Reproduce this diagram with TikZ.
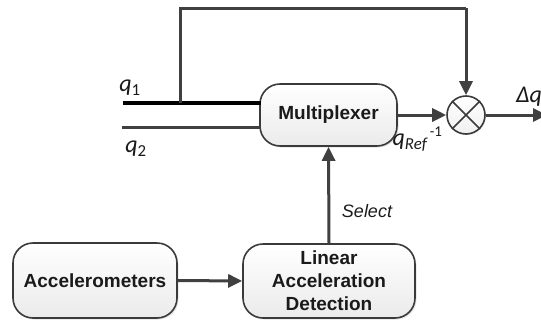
\documentclass[tikz,border=0pt]{standalone}
\usepackage{fontspec}
\setmainfont{Liberation Sans}
\newfontfamily\calib{Carlito}
\usetikzlibrary{arrows.meta,shadows}

\definecolor{wire}{HTML}{404040}
\definecolor{rim}{HTML}{3A3A3A}
\definecolor{ink}{HTML}{1A1A1A}

\begin{document}
\begin{tikzpicture}[x=1pt,y=-1pt,
  block/.style={draw=rim, line width=1.6pt, rounded corners=20pt,
    top color=white, bottom color=gray!16,
    drop shadow={opacity=0.22, shadow xshift=1.5pt, shadow yshift=-1.5pt},
    text=ink, font=\fontsize{19}{23}\selectfont\bfseries, align=center, inner sep=0pt},
  wire/.style={draw=wire, line width=3pt},
  arr/.style={wire, -{Triangle[length=14pt,width=13pt]}},
  mathlbl/.style={text=ink, font=\fontsize{24}{26}\selectfont\calib\itshape, inner sep=0pt},
  note/.style={text=ink, font=\fontsize{18}{22}\selectfont\itshape, inner sep=0pt}]

\clip (0,0) rectangle (541,322);

% blocks
\node[block, minimum width=137pt, minimum height=62pt] (mux) at (328.5,115) {Multiplexer};
\node[block, minimum width=164pt, minimum height=75pt] (acc) at (95,280.5) {Accelerometers};
\node[block, minimum width=172pt, minimum height=74pt] (lad) at (329,281) {Linear\\Acceleration\\Detection};

% summing junction
\node[circle, draw=rim, line width=1.6pt, minimum size=38pt, inner sep=0pt,
      top color=white, bottom color=gray!12,
      drop shadow={opacity=0.2, shadow xshift=1pt, shadow yshift=-1pt}] (sum) at (466,115) {};
\draw[rim, line width=1.6pt] (sum.north west) -- (sum.south east)
                             (sum.north east) -- (sum.south west);

% input signals
\coordinate (q1s) at (123,103);
\coordinate (q1e) at (261,103);
\coordinate (tap) at (180,103);
\coordinate (q2s) at (122,127);
\coordinate (q2e) at (261,127);
\coordinate (topl) at (180,8);
\coordinate (topr) at (466,8);
\coordinate (outp) at (547,115);

\draw[black, line width=3.6pt] (q1s) -- (q1e);
\draw[wire] (q2s) -- (q2e);

% feedback path of q1 to the junction
\draw[wire] (tap) -- (topl) -- (topr);
\draw[arr] (topr) -- (sum.north);

% forward paths
\draw[arr] (mux.east) -- (sum.west);
\draw[arr] (sum.east) -- (outp);
\draw[arr] (acc.east) -- (lad.west);
\draw[arr] (lad.north) -- (mux.south);

% labels
\node[mathlbl] (lq1) at (130,88) {q\textsubscript{\upshape 1}};
\node[mathlbl] (lq2) at (136,149) {q\textsubscript{\upshape 2}};
\node[mathlbl] (ldq) at (529,97) {Δq};
\node[mathlbl] (lref) at (410,143) {q\textsubscript{Ref}};
\node[text=ink, font=\fontsize{15}{17}\selectfont\calib, inner sep=0pt] (linv) at (436,132) {-1};
\node[note] (lsel) at (367,211) {Select};

\end{tikzpicture}
\end{document}
